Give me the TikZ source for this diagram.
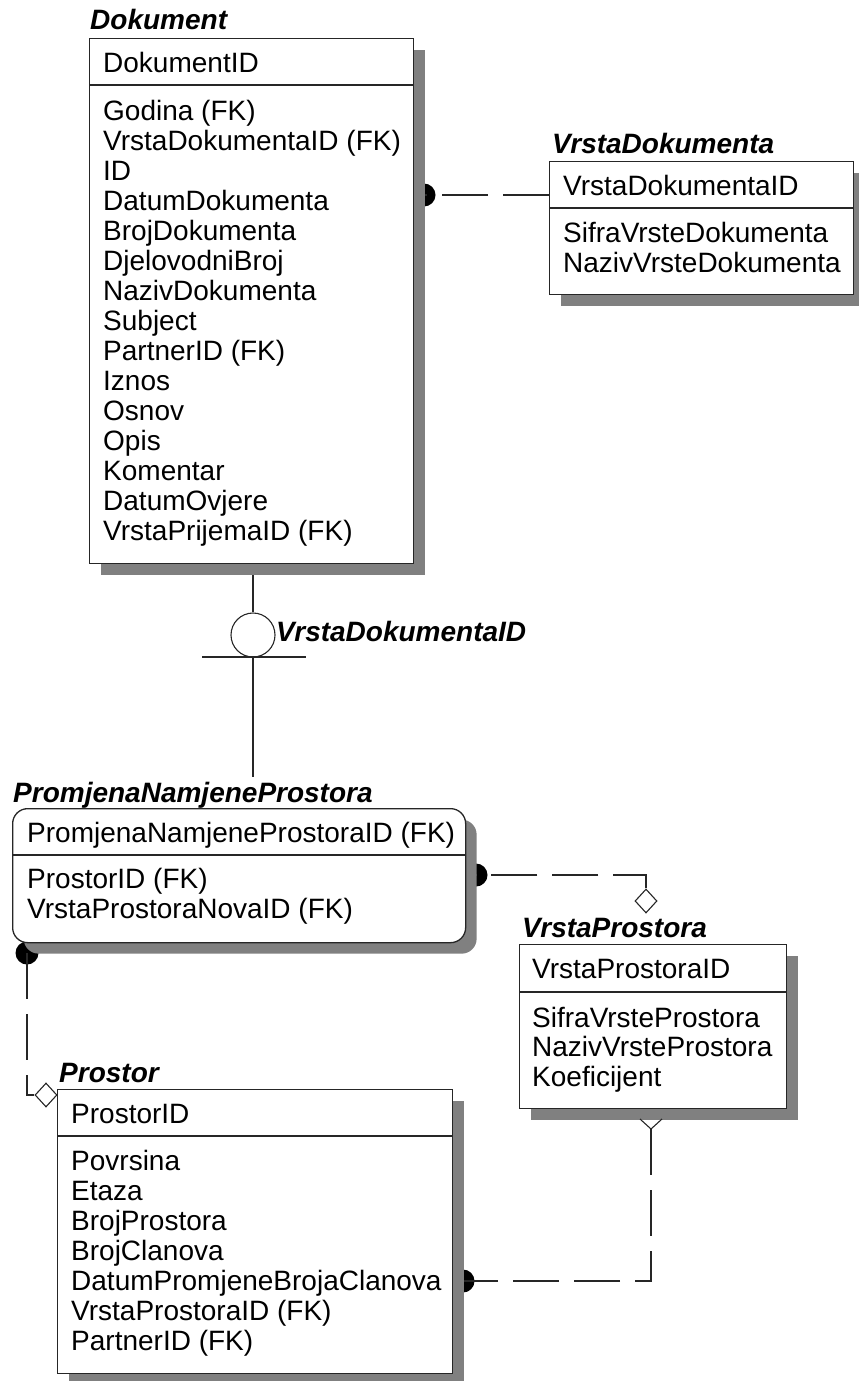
\documentclass[tikz,border=0pt]{standalone}
\usepackage{fontspec}
\setmainfont{Liberation Sans}
\usetikzlibrary{shadows,shapes.geometric}
\pgfdeclarelayer{bg}
\pgfsetlayers{bg,main}
\begin{document}
\begin{tikzpicture}[x=1pt,y=-1pt,
  ent/.style={draw=black!85, line width=1.3pt, fill=white, anchor=north west, inner sep=0pt,
    drop shadow={shadow xshift=11pt, shadow yshift=-11pt, fill=black!50, opacity=1}},
  sepline/.style={draw=black!85, line width=1.3pt},
  rel/.style={draw=black!85, line width=1.3pt},
  reldash/.style={rel, dash pattern=on 46pt off 15pt},
  attr/.style={anchor=base west, inner sep=0pt, font=\fontsize{28}{30}\selectfont},
  ttl/.style={anchor=base west, inner sep=0pt, font=\fontsize{28}{30}\selectfont\bfseries\itshape},
  dotmark/.style={circle, fill=black, minimum size=23pt, inner sep=0pt},
  diam/.style={diamond, draw=black!85, line width=1.1pt, fill=white, inner sep=0pt, minimum width=22pt, minimum height=24pt},
]
\useasboundingbox (0,0) rectangle (859,1381);

% ---------- Dokument ----------
\node[ent, minimum width=324pt, minimum height=525pt] (dok) at (89,38) {};
\draw[sepline] (dok.west |- 0,85) -- (dok.east |- 0,85);
\node[ttl] (dokT) at (90,30) {Dokument};
\node[attr] (dokK) at (103,72) {DokumentID};
\foreach \t [count=\i from 0] in {{Godina (FK)},{VrstaDokumentaID (FK)},{ID},{DatumDokumenta},{BrojDokumenta},{DjelovodniBroj},{NazivDokumenta},{Subject},{PartnerID (FK)},{Iznos},{Osnov},{Opis},{Komentar},{DatumOvjere},{VrstaPrijemaID (FK)}}
  \node[attr] (dokA\i) at (103,{120+30*\i}) {\t};

% ---------- VrstaDokumenta ----------
\node[ent, minimum width=304pt, minimum height=133pt] (vd) at (549,161) {};
\draw[sepline] (vd.west |- 0,208) -- (vd.east |- 0,208);
\node[ttl] (vdT) at (552,153) {VrstaDokumenta};
\node[attr] (vdK) at (563,195) {VrstaDokumentaID};
\foreach \t [count=\i from 0] in {{SifraVrsteDokumenta},{NazivVrsteDokumenta}}
  \node[attr] (vdA\i) at (563,{242+30*\i}) {\t};

% ---------- PromjenaNamjeneProstora ----------
\node[ent, rounded corners=15pt, minimum width=453pt, minimum height=134pt] (pnp) at (12,808) {};
\draw[sepline] (pnp.west |- 0,855) -- (pnp.east |- 0,855);
\node[ttl] (pnpT) at (13,802) {PromjenaNamjeneProstora};
\node[attr] (pnpK) at (27,842) {PromjenaNamjeneProstoraID (FK)};
\foreach \t [count=\i from 0] in {{ProstorID (FK)},{VrstaProstoraNovaID (FK)}}
  \node[attr] (pnpA\i) at (27,{888+30*\i}) {\t};

% ---------- VrstaProstora ----------
\node[ent, minimum width=267pt, minimum height=164pt] (vp) at (519,944) {};
\draw[sepline] (vp.west |- 0,992) -- (vp.east |- 0,992);
\node[ttl] (vpT) at (522,937) {VrstaProstora};
\node[attr] (vpK) at (532,978) {VrstaProstoraID};
\foreach \t [count=\i from 0] in {{SifraVrsteProstora},{NazivVrsteProstora},{Koeficijent}}
  \node[attr] (vpA\i) at (532,{1027+29.5*\i}) {\t};

% ---------- Prostor ----------
\node[ent, minimum width=395pt, minimum height=284pt] (pr) at (57,1089) {};
\draw[sepline] (pr.west |- 0,1136) -- (pr.east |- 0,1136);
\node[ttl] (prT) at (59,1082) {Prostor};
\node[attr] (prK) at (71,1123) {ProstorID};
\foreach \t [count=\i from 0] in {{Povrsina},{Etaza},{BrojProstora},{BrojClanova},{DatumPromjeneBrojaClanova},{VrstaProstoraID (FK)},{PartnerID (FK)}}
  \node[attr] (prA\i) at (71,{1170+30*\i}) {\t};

% ---------- diamonds and crow foot ----------
\node[diam] (vpd) at (646,901) {};
\node[diam] (prd) at (46,1095) {};
\coordinate (vpfoot) at (651,1129);
\coordinate (footL) at (640,1119);
\coordinate (footR) at (662,1119);
\draw[rel, line width=1.1pt] (footL) -- (vpfoot) -- (footR);

% ---------- subtype symbol ----------
\node[circle, draw=black!85, line width=1.1pt, minimum size=44pt, inner sep=0pt] (sub) at (253,635) {};
\coordinate (barL) at (202,657);
\coordinate (barR) at (306,657);
\coordinate (subend) at (253,777);
\draw[rel, line width=1.1pt] (barL) -- (barR);
\draw[rel, line width=1.1pt] (sub.south) -- (subend);
\node[ttl] (subL) at (276,641) {VrstaDokumentaID};

% ---------- connectors (behind boxes) ----------
\begin{pgfonlayer}{bg}
  \node[dotmark] (dokdot) at (424,195) {};
  \node[dotmark] (pnpdotR) at (476,875) {};
  \node[dotmark] (pnpdotB) at (27,953) {};
  \node[dotmark] (prdot) at (463,1281) {};
  \draw[reldash] (vd.west |- dokdot) -- (dokdot.center);
  \draw[reldash] (vpd.north) |- (pnpdotR.center);
  \draw[reldash] (pnpdotB.center) |- (prd.west);
  \draw[reldash] (vpfoot) |- (prdot.center);
  \draw[rel, line width=1.1pt] (dok.south -| sub) -- (sub.north);
\end{pgfonlayer}
\end{tikzpicture}
\end{document}
